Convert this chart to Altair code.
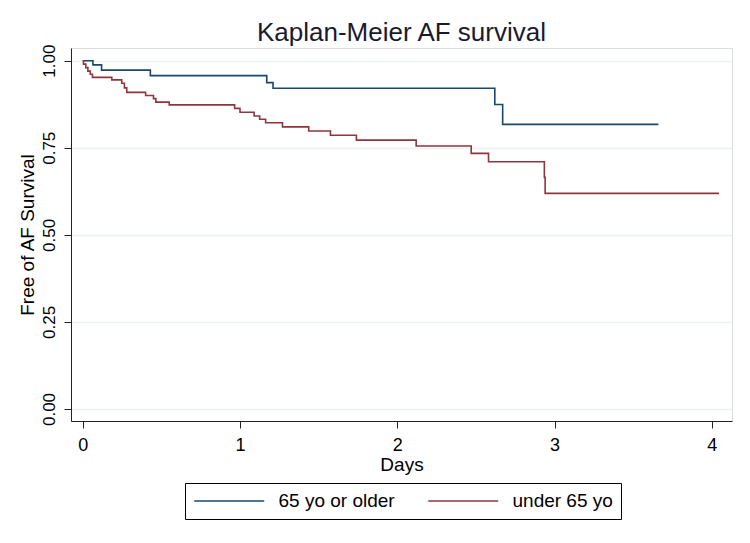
import altair as alt
import pandas as pd

older_days = [0, 0.065, 0.12, 0.43, 1.17, 1.21, 2.62, 2.67, 3.66]
older_surv = [1.0, 0.988, 0.973, 0.957, 0.937, 0.921, 0.874, 0.817, 0.817]

under_days = [0, 0.005, 0.02, 0.033, 0.048, 0.062, 0.185, 0.248, 0.265, 0.28,
              0.40, 0.45, 0.465, 0.55, 0.966, 1.0, 1.09, 1.125, 1.163, 1.27,
              1.437, 1.575, 1.74, 2.12, 2.47, 2.58, 2.935, 2.94, 4.045]
under_surv = [1.0, 0.99, 0.98, 0.97, 0.961, 0.952, 0.945, 0.935, 0.922, 0.909,
              0.900, 0.891, 0.881, 0.873, 0.863, 0.852, 0.841, 0.832, 0.822, 0.810,
              0.798, 0.786, 0.772, 0.755, 0.734, 0.710, 0.665, 0.619, 0.619]

groups = ["65 yo or older", "under 65 yo"]
colors = ["#1A476F", "#90353B"]

rows = []
for i, (t, s) in enumerate(zip(older_days, older_surv)):
    rows.append({"group": groups[0], "days": t, "surv": s, "ord": i})
for i, (t, s) in enumerate(zip(under_days, under_surv)):
    rows.append({"group": groups[1], "days": t, "surv": s, "ord": i})
df = pd.DataFrame(rows)

FONT = "Liberation Sans"

chart = alt.Chart(df).mark_line(interpolate="step-after", strokeWidth=1.6, clip=True).encode(
    x=alt.X("days:Q", title="Days",
            scale=alt.Scale(domain=[-0.0744, 4.128], nice=False, zero=False),
            axis=alt.Axis(values=[0, 1, 2, 3, 4], format="d", grid=False,
                          tickSize=7, tickColor="#222", domainColor="#222",
                          labelFontSize=18, labelPadding=8, labelColor="#000",
                          titleFontSize=19, titlePadding=1, titleColor="#000",
                          titleFontWeight="normal", labelFont=FONT, titleFont=FONT)),
    y=alt.Y("surv:Q", title="Free of AF Survival",
            scale=alt.Scale(domain=[-0.0345, 1.0364], nice=False, zero=False),
            axis=alt.Axis(values=[0, 0.25, 0.5, 0.75, 1.0], format=".2f", grid=True,
                          gridColor="#EAF2F3", gridWidth=1.5,
                          tickSize=7, tickColor="#222", domainColor="#222",
                          labelAngle=270, labelAlign="center", labelBaseline="bottom",
                          labelFontSize=17, labelPadding=6, labelColor="#000",
                          titleFontSize=19, titlePadding=3, titleColor="#000",
                          titleFontWeight="normal", labelFont=FONT, titleFont=FONT)),
    color=alt.Color("group:N", scale=alt.Scale(domain=groups, range=colors),
                    legend=alt.Legend(title=None, orient="none", direction="horizontal",
                                      legendX=114, legendY=435,
                                      symbolType="M-1,0L7,0", symbolSize=306.25,
                                      symbolStrokeWidth=1.6,
                                      labelFontSize=19, labelFont=FONT, labelColor="#000",
                                      labelOffset=65.5, columnPadding=30,
                                      strokeColor="#000", padding=8,
                                      fillColor="white")),
    order="ord:Q",
).properties(
    width=661, height=373,
    title=alt.TitleParams("Kaplan-Meier AF survival", fontSize=26, font=FONT,
                          fontWeight="normal", color="#1a1a2e", anchor="middle", offset=-2),
    autosize=alt.AutoSizeParams(type="none"),
    padding={"left": 63, "top": 40, "right": 10, "bottom": 120},
).configure_view(stroke=None).configure(background="white")

chart.save("out.html", embed_options={"renderer": "svg", "actions": False})
